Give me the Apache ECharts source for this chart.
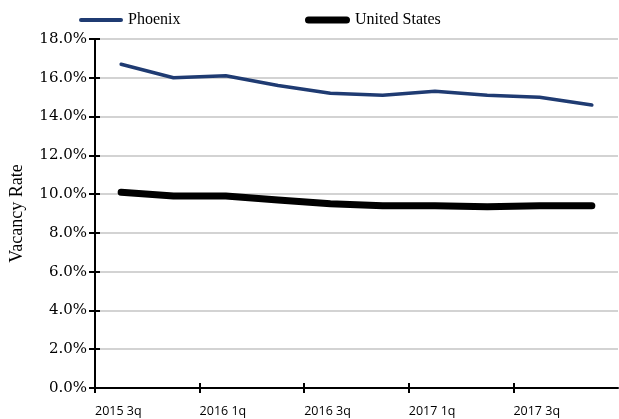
<!DOCTYPE html>
<html>
<head>
<meta charset="utf-8">
<script src="https://cdn.jsdelivr.net/npm/echarts@6/dist/echarts.min.js"></script>
<style>
  html, body { margin: 0; padding: 0; background: #fff; }
  #chart { width: 619px; height: 419px; }
</style>
</head>
<body>
<div id="chart"></div>
<script>
// Quarterly vacancy rate, Phoenix vs. United States (percent)
const quarters = ['2015 3q', '2015 4q', '2016 1q', '2016 2q', '2016 3q',
                  '2016 4q', '2017 1q', '2017 2q', '2017 3q', '2017 4q'];
const phoenix = [16.7, 16.0, 16.1, 15.6, 15.2, 15.1, 15.3, 15.1, 15.0, 14.6];
const unitedStates = [10.1, 9.9, 9.9, 9.7, 9.5, 9.4, 9.4, 9.35, 9.4, 9.4];
// every other quarter is labelled, at the left edge of its band
const labelledQuarters = [0, 2, 4, 6, 8];
const yMin = 0, yMax = 18, yStep = 2;

const serif = 'Liberation Serif';
const tickLabelFont = 'DejaVu Serif';
const navy = '#1f3b72';

// pill-shaped legend keys
const pill = (w, h) => {
  const r = h / 2;
  return 'path://M' + r + ',0 H' + (w - r) + ' A' + r + ',' + r + ' 0 0 1 ' + (w - r) + ',' + h +
         ' H' + r + ' A' + r + ',' + r + ' 0 0 1 ' + r + ',0 Z';
};

const chart = echarts.init(document.getElementById('chart'), null, { renderer: 'canvas' });

// band axis carrying the data, plus a plain index axis (0..n) for ticks and labels
const indexAxis = (inside, withLabels) => ({
  type: 'value',
  min: 0, max: quarters.length,
  position: 'bottom',
  axisLine: { show: false },
  axisTick: { show: true, inside: inside, length: 5, customValues: labelledQuarters,
              lineStyle: { color: '#000', width: 2 } },
  axisLabel: withLabels ? {
    show: true,
    customValues: labelledQuarters,
    margin: 17,
    align: 'left',
    formatter: v => quarters[v],
    fontFamily: 'Open Sans', fontSize: 12.5, color: '#000'
  } : { show: false },
  splitLine: { show: false }
});

const legendText = { fontFamily: serif, fontSize: 16, color: '#000' };

chart.setOption({
  animation: false,
  backgroundColor: '#fff',
  grid: { left: 92, right: 1, top: 39, bottom: 31 },
  legend: [
    {
      data: [{ name: 'Phoenix', icon: pill(44, 4) }],
      left: 79, top: 12, padding: 0,
      itemWidth: 44, itemHeight: 4,
      textStyle: legendText
    },
    {
      data: [{ name: 'United States', icon: pill(45, 7) }],
      left: 305, top: 12, padding: 0,
      itemWidth: 45, itemHeight: 7,
      textStyle: legendText
    }
  ],
  xAxis: [
    {
      type: 'category',
      data: quarters,
      boundaryGap: true,
      axisLine: { show: true, onZero: false, lineStyle: { color: '#000', width: 2 } },
      axisTick: { show: false },
      axisLabel: { show: false },
      splitLine: { show: false }
    },
    indexAxis(false, true),
    indexAxis(true, false)
  ],
  yAxis: [
    {
      type: 'value',
      min: yMin, max: yMax, interval: yStep,
      name: 'Vacancy Rate',
      nameLocation: 'middle',
      nameGap: 69,
      nameRotate: 90,
      nameTextStyle: { fontFamily: serif, fontSize: 18, color: '#000' },
      axisLine: { show: true, lineStyle: { color: '#000', width: 2 } },
      axisTick: { show: true, length: 6, lineStyle: { color: '#000', width: 2 } },
      axisLabel: {
        margin: 8,
        formatter: v => v.toFixed(1) + '%',
        fontFamily: tickLabelFont, fontSize: 15, color: '#000'
      },
      splitLine: { show: true, lineStyle: { color: '#c4c4c4', width: 1.5 } }
    },
    {
      type: 'value',
      min: yMin, max: yMax, interval: yStep,
      position: 'left',
      axisLine: { show: false },
      axisTick: { show: true, inside: true, length: 5, lineStyle: { color: '#000', width: 2 } },
      axisLabel: { show: false },
      splitLine: { show: false }
    }
  ],
  series: [
    {
      name: 'Phoenix',
      type: 'line',
      data: phoenix,
      symbol: 'none',
      lineStyle: { color: navy, width: 3.5, cap: 'round', join: 'round' },
      itemStyle: { color: navy },
      z: 3
    },
    {
      name: 'United States',
      type: 'line',
      data: unitedStates,
      symbol: 'none',
      lineStyle: { color: '#000', width: 7, cap: 'round', join: 'round' },
      itemStyle: { color: '#000' },
      z: 4
    }
  ]
});
</script>
</body>
</html>
